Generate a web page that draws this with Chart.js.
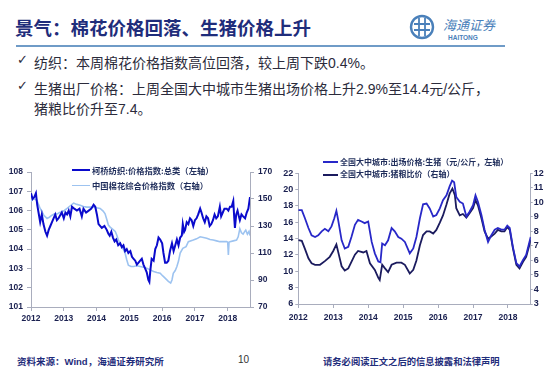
<!DOCTYPE html>
<html>
<head>
<meta charset="utf-8">
<script src="https://cdn.jsdelivr.net/npm/chart.js@4.4.1/dist/chart.umd.min.js"></script>
<style>
  html, body { margin:0; padding:0; background:#fff; }
  body { width:550px; height:379px; position:relative; overflow:hidden; font-family:"Noto Sans CJK SC","Liberation Sans",sans-serif; }
  .abs { position:absolute; white-space:nowrap; }
  #title { left:15px; top:15px; font-size:18.5px; font-weight:bold; color:#1F2D7B; line-height:24px; letter-spacing:0; }
  #rule { left:16px; top:45px; width:489px; height:1.5px; background:#6F9BC7; }
  .bul { font-size:14px; color:#2b2b3b; line-height:20px; }
  .chk { font-family:"DejaVu Sans"; font-size:13px; color:#2b2b3b; }
  .num { font-family:"Liberation Sans",Arial,sans-serif; }
  .leg { font-size:8.3px; font-weight:bold; color:#1F2D5B; line-height:10px; }
  .legline { position:absolute; height:0; }
  #foot1 { left:17px; top:354px; font-size:9.5px; font-weight:bold; color:#1F2D7B; }
  #foot2 { left:238px; top:354px; font-size:10px; color:#333; font-family:"Liberation Sans",Arial,sans-serif; }
  #foot3 { left:323px; top:354px; font-size:9.3px; font-weight:bold; color:#1F2D7B; }
  canvas { position:absolute; }
</style>
</head>
<body>
<script>
// ---------- Left chart: 柯桥纺织价格指数 (left axis) ----------
const keqiaoYears = [2012.00,2012.05,2012.10,2012.15,2012.19,2012.23,2012.28,2012.33,2012.38,2012.44,2012.49,2012.54,2012.59,2012.64,2012.74,2012.79,2012.84,2012.94,2013.00,2013.05,2013.10,2013.15,2013.20,2013.25,2013.32,2013.40,2013.48,2013.55,2013.60,2013.68,2013.76,2013.84,2013.91,2013.96,2014.01,2014.06,2014.16,2014.24,2014.31,2014.36,2014.40,2014.45,2014.50,2014.55,2014.60,2014.66,2014.72,2014.77,2014.82,2014.87,2014.92,2014.97,2015.03,2015.08,2015.13,2015.18,2015.23,2015.28,2015.33,2015.38,2015.43,2015.48,2015.53,2015.58,2015.61,2015.64,2015.68,2015.74,2015.79,2015.84,2015.89,2015.94,2016.00,2016.04,2016.09,2016.14,2016.19,2016.24,2016.30,2016.35,2016.40,2016.45,2016.50,2016.55,2016.60,2016.63,2016.67,2016.70,2016.75,2016.80,2016.85,2016.90,2016.95,2017.00,2017.05,2017.10,2017.16,2017.20,2017.25,2017.30,2017.35,2017.40,2017.45,2017.50,2017.55,2017.60,2017.65,2017.70,2017.76,2017.80,2017.85,2017.90,2017.97,2018.02,2018.07,2018.12,2018.17,2018.20,2018.22,2018.26,2018.30,2018.34,2018.37,2018.42,2018.47,2018.53,2018.58,2018.63,2018.68];
const keqiaoValues = [106.9,106.6,106.7,106.9,106.3,105.9,105.4,105.8,105.3,104.9,104.7,105.0,105.2,105.4,105.8,105.5,105.6,105.9,105.6,105.9,105.8,106.0,105.7,106.2,106.1,106.0,106.1,105.7,106.1,105.9,106.0,106.1,106.3,106.2,105.8,105.3,105.1,105.2,105.0,104.8,104.7,104.9,104.6,104.4,104.5,104.2,104.3,104.1,104.2,103.9,104.0,103.8,103.9,103.6,103.5,103.4,103.2,103.3,103.4,103.5,103.2,103.0,102.8,102.4,102.3,102.9,103.5,103.4,104.0,104.2,104.6,104.5,104.3,103.8,103.3,103.3,103.4,103.9,104.3,103.9,104.2,104.5,104.2,104.6,104.7,105.3,104.9,105.0,105.4,105.3,105.6,105.5,105.2,105.5,105.6,105.8,106.1,105.9,105.6,105.4,105.7,105.6,105.2,105.3,105.5,105.8,105.6,105.7,106.2,105.7,105.9,106.1,106.1,106.0,106.2,106.2,106.5,105.6,105.1,105.8,106.0,105.7,105.5,105.8,105.7,105.6,105.9,106.1,106.7];

// ---------- Left chart: 中国棉花综合价格指数 (right axis) ----------
const cottonYears = [2012.00,2012.05,2012.10,2012.18,2012.28,2012.39,2012.49,2012.56,2012.64,2012.72,2012.80,2012.87,2012.94,2013.02,2013.10,2013.20,2013.30,2013.40,2013.50,2013.60,2013.70,2013.80,2013.91,2014.00,2014.11,2014.20,2014.26,2014.31,2014.36,2014.42,2014.47,2014.57,2014.62,2014.66,2014.72,2014.77,2014.82,2014.87,2014.92,2014.97,2015.05,2015.13,2015.23,2015.33,2015.43,2015.53,2015.64,2015.74,2015.84,2015.94,2016.02,2016.09,2016.19,2016.26,2016.30,2016.34,2016.40,2016.45,2016.50,2016.55,2016.63,2016.73,2016.80,2016.95,2017.05,2017.16,2017.26,2017.36,2017.46,2017.56,2017.66,2017.76,2017.86,2017.97,2018.00,2018.02,2018.04,2018.07,2018.17,2018.27,2018.32,2018.37,2018.42,2018.47,2018.52,2018.55,2018.60,2018.65,2018.68];
const cottonValues = [148,150,150,149,143,138,135.6,136.5,138,139,139,140,140.5,141.5,143,145,147,146,145.4,144.5,144,144,144,143.5,143,141,139,135,130.7,129,128,126,123,120,117,115,112.5,110,105,101,100,100,100.5,100,99.5,98.7,97.5,96.3,95.5,95,93,91.4,89,87.7,90,95,97,100,104,110,113.5,114.7,118.4,119.6,120.5,122,121.5,121,120,119.6,119,118.4,118.4,118.4,118,108.6,118,118.4,119,119.6,122,128,125,124,126,127,124,126,123];

// ---------- Right chart: 全国大中城市 出场价格:生猪 (left axis) ----------
const hogPriceYears = [2012.00,2012.10,2012.19,2012.29,2012.38,2012.48,2012.57,2012.67,2012.76,2012.86,2012.95,2013.03,2013.09,2013.14,2013.24,2013.33,2013.43,2013.52,2013.62,2013.71,2013.81,2013.90,2014.00,2014.10,2014.19,2014.29,2014.35,2014.40,2014.48,2014.57,2014.67,2014.76,2014.86,2014.95,2015.05,2015.19,2015.29,2015.38,2015.48,2015.57,2015.67,2015.76,2015.86,2015.95,2016.05,2016.14,2016.24,2016.33,2016.40,2016.46,2016.52,2016.62,2016.71,2016.81,2016.90,2017.00,2017.07,2017.14,2017.24,2017.33,2017.43,2017.52,2017.62,2017.71,2017.81,2017.90,2017.98,2018.05,2018.14,2018.24,2018.33,2018.43,2018.52,2018.65];
const hogPriceValues = [17.5,17.5,16.5,15.3,14.4,14.2,14.4,14.9,15.2,14.9,15.5,16.5,17.4,16.3,13.8,12.8,13.0,14.2,15.7,16.3,16.1,15.9,16.1,13.6,12.2,11.2,11.1,13.4,13.2,13.8,15.3,14.9,14.2,14.0,13.6,12.2,12.8,14.2,16.5,18.2,18.3,17.7,16.7,16.9,17.7,18.7,19.3,20.4,21.1,20.9,19.1,18.5,18.3,16.7,17.3,18.1,19.3,18.5,16.9,15.1,13.6,14.4,15.1,15.3,15.1,15.1,15.6,15.3,13.0,11.0,10.6,11.4,12.0,14.2];

// ---------- Right chart: 全国大中城市 猪粮比价 (right axis) ----------
const hogGrainYears = [2012.00,2012.10,2012.19,2012.29,2012.38,2012.48,2012.62,2012.76,2012.90,2013.00,2013.09,2013.16,2013.24,2013.33,2013.43,2013.52,2013.62,2013.71,2013.86,2013.95,2014.05,2014.19,2014.29,2014.33,2014.40,2014.48,2014.57,2014.67,2014.81,2014.95,2015.05,2015.19,2015.29,2015.38,2015.48,2015.57,2015.67,2015.76,2015.86,2015.95,2016.05,2016.14,2016.24,2016.33,2016.41,2016.48,2016.52,2016.62,2016.71,2016.81,2016.90,2017.00,2017.07,2017.14,2017.24,2017.33,2017.43,2017.52,2017.62,2017.71,2017.81,2017.90,2017.98,2018.05,2018.14,2018.24,2018.33,2018.43,2018.52,2018.65];
const hogGrainValues = [7.4,7.35,6.8,6.15,5.8,5.7,5.7,5.95,6.25,6.65,7.1,6.4,5.6,5.3,5.45,5.9,6.4,6.65,6.55,6.65,5.8,5.35,4.8,4.65,5.7,5.45,5.2,5.7,5.85,5.85,5.7,5.1,5.35,6.0,7.05,7.75,8.0,8.0,7.85,8.1,8.6,9.1,9.85,10.6,10.95,10.5,9.6,9.1,9.2,8.95,9.25,9.6,10.15,9.8,8.9,8.0,7.5,7.65,7.85,8.1,8.0,8.0,8.3,8.1,6.85,5.7,5.45,5.9,6.25,7.4];

// axis ranges / labels
const leftXRange = [2012, 2018.68];
const rightXRange = [2012, 2018.65];
const leftChartLeftAxis = [101, 108, 1];
const leftChartRightAxis = [70, 170, 20];
const rightChartLeftAxis = [6, 22, 2];
const rightChartRightAxis = [3, 12, 1];
</script>

<div id="title" class="abs">景气：棉花价格回落、生猪价格上升</div>
<div id="rule" class="abs"></div>

<svg class="abs" style="left:408px;top:12px" width="100" height="32" viewBox="0 0 100 32">
  <circle cx="14" cy="15" r="11" fill="none" stroke="#4A80BA" stroke-width="2.4"/>
  <path d="M6 12 H22 M6 18 H22 M11 6 V24 M17 6 V24" stroke="#4A80BA" stroke-width="1.8" fill="none"/>
  <text x="35" y="18" font-family="Noto Sans CJK SC" font-size="13" font-style="italic" fill="#4A80BA">海通证券</text>
  <text x="40" y="27.5" font-family="Liberation Sans" font-weight="bold" font-size="6.5" fill="#4A80BA">HAITONG</text>
</svg>

<div class="abs chk" style="left:17px;top:52px;">✓</div>
<div class="abs bul" style="left:34px;top:52px;">纺织：本周棉花价格指数高位回落，较上周下跌<span class="num">0.4%</span>。</div>
<div class="abs chk" style="left:17px;top:78px;">✓</div>
<div class="abs bul" style="left:34px;top:78px;">生猪出厂价格：上周全国大中城市生猪出场价格上升<span class="num">2.9%</span>至<span class="num">14.4</span>元<span class="num">/</span>公斤，</div>
<div class="abs bul" style="left:34px;top:98px;">猪粮比价升至<span class="num">7.4</span>。</div>

<canvas id="c1" width="280" height="180" style="left:0;top:150px;width:280px;height:180px"></canvas>
<canvas id="c2" width="270" height="180" style="left:280px;top:150px;width:270px;height:180px"></canvas>

<!-- legends -->
<div class="legline" style="left:72px;top:169px;width:18px;border-top:2.5px solid #0A0ACC"></div>
<div class="abs leg" style="left:92px;top:165px;">柯桥纺织:价格指数:总类（左轴）</div>
<div class="legline" style="left:72px;top:184.5px;width:18px;border-top:1.5px solid #9DC3F0"></div>
<div class="abs leg" style="left:92px;top:180px;">中国棉花综合价格指数（右轴）</div>

<div class="legline" style="left:323px;top:161px;width:15px;border-top:2px solid #2828C8"></div>
<div class="abs leg" style="left:340px;top:156.5px;font-size:8px;">全国大中城市:出场价格:生猪（元/公斤，左轴）</div>
<div class="legline" style="left:323px;top:173.5px;width:15px;border-top:2px solid #1B1B5E"></div>
<div class="abs leg" style="left:340px;top:169px;font-size:8px;">全国大中城市:猪粮比价（右轴）</div>

<div id="foot1" class="abs">资料来源：<span class="num">Wind</span>，海通证券研究所</div>
<div id="foot2" class="abs">10</div>
<div id="foot3" class="abs">请务必阅读正文之后的信息披露和法律声明</div>

<script>
const axisColor = '#A9ADBD';
const tickFontColor = '#1A2050';
function pts(xs, ys) { return xs.map((x, i) => ({ x: x, y: ys[i] })); }
function yearAxis(range, h, len, pad, fs) {
  return {
    type: 'linear', min: range[0], max: range[1],
    ticks: { stepSize: 1, includeBounds: false, padding: pad, color: tickFontColor, maxRotation: 0, autoSkip: false,
             font: { family: 'Liberation Sans', weight: 'bold', size: fs },
             callback: v => String(v) },
    afterBuildTicks: s => { s.ticks = s.ticks.filter(t => Number.isInteger(t.value)); },
    grid: { drawOnChartArea: false, drawTicks: true, tickLength: len, color: axisColor },
    border: { display: true, color: axisColor, width: 1 },
    afterFit: s => { s.height = h; }
  };
}
function valAxis(pos, r, w, len, pad, fs) {
  return {
    type: 'linear', position: pos, min: r[0], max: r[1],
    ticks: { stepSize: r[2], padding: pad, color: tickFontColor, font: { family: 'Liberation Sans', weight: 'bold', size: fs } },
    grid: { drawOnChartArea: false, drawTicks: true, tickLength: len, color: axisColor },
    border: { display: true, color: axisColor, width: 1 },
    afterFit: s => { s.width = w; }
  };
}
const common = {
  responsive: false, animation: false, devicePixelRatio: 1,
  plugins: { legend: { display: false }, tooltip: { enabled: false } },
  elements: { point: { radius: 0 }, line: { tension: 0 } }
};

new Chart(document.getElementById('c1'), {
  type: 'line',
  data: { datasets: [
    { data: pts(keqiaoYears, keqiaoValues), yAxisID: 'y', borderColor: '#0A0ACC', borderWidth: 2 },
    { data: pts(cottonYears, cottonValues), yAxisID: 'y2', borderColor: '#9DC3F0', borderWidth: 1.6 }
  ]},
  options: Object.assign({}, common, {
    layout: { padding: { top: 22, left: 0, right: 0, bottom: 0 } },
    scales: {
      x: yearAxis(leftXRange, 23, 4, 3, 8.5),
      y: valAxis('left', leftChartLeftAxis, 31, 4, 4, 8.5),
      y2: valAxis('right', leftChartRightAxis, 30, 4, 4, 8.5)
    }
  })
});

new Chart(document.getElementById('c2'), {
  type: 'line',
  data: { datasets: [
    { data: pts(hogPriceYears, hogPriceValues), yAxisID: 'y', borderColor: '#2828C8', borderWidth: 1.8 },
    { data: pts(hogGrainYears, hogGrainValues), yAxisID: 'y2', borderColor: '#1B1B5E', borderWidth: 1.8 }
  ]},
  options: Object.assign({}, common, {
    layout: { padding: { top: 23.3, left: 0, right: 0, bottom: 0 } },
    scales: {
      x: yearAxis(rightXRange, 26, 4, 5, 8.5),
      y: valAxis('left', rightChartLeftAxis, 18.3, 3, 2, 9),
      y2: valAxis('right', rightChartRightAxis, 19.3, 2, 1, 9)
    }
  })
});
</script>
</body>
</html>
